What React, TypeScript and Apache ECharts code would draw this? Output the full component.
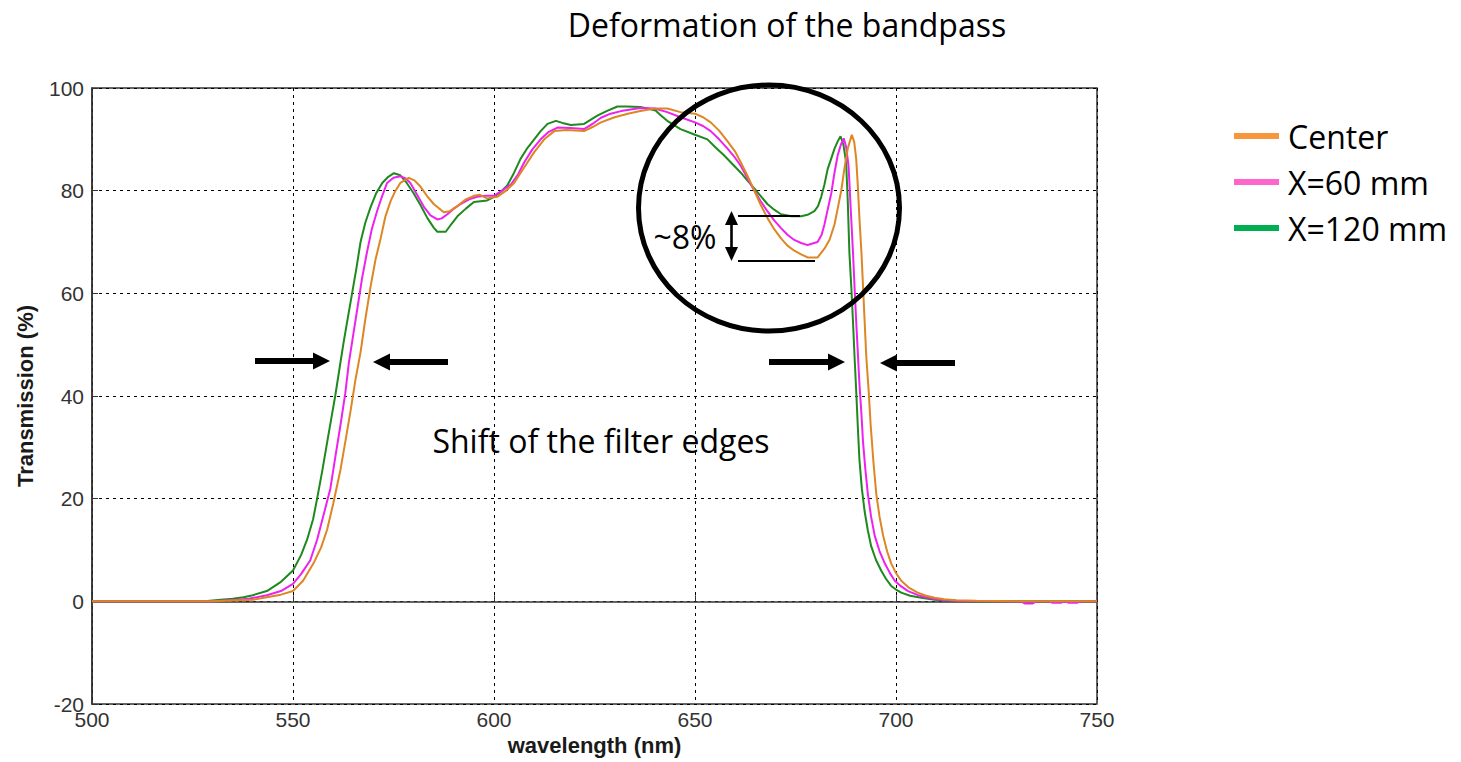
import React, { useEffect, useRef } from "react";
import * as echarts from "echarts";

// ---- Data ----
const centerWl = [500, 530, 540, 543.5, 547, 550, 552.5, 555.1, 557, 558.5, 560, 561.8, 563, 564.3, 565.5, 566.8, 568, 569.3, 570.5, 571.8, 573, 574.3, 575.5, 576.7, 578.8, 580.2, 581.7, 583.3, 585, 587.5, 589, 590.9, 593, 595, 596.5, 598.3, 600.8, 603, 605, 607.5, 610, 612.5, 615, 618, 622.4, 624.5, 626.6, 630, 633.3, 636.4, 640, 643.1, 646.4, 650, 652, 653.9, 656, 658.1, 660, 661.4, 663, 664.7, 666.3, 668, 669.7, 671.4, 673, 674.7, 676.4, 678, 680.5, 682.2, 683.5, 684.7, 685.5, 686.4, 687.2, 688, 689, 689.6, 690.1, 690.5, 690.9, 691.4, 691.8, 692.2, 692.6, 693.2, 693.7, 694.4, 695.1, 695.9, 696.8, 697.8, 698.8, 700, 701.3, 703.3, 705.4, 707.5, 709.6, 712, 715, 720, 730, 750];
const centerT = [0, 0, 0.3, 0.8, 1.3, 2, 4, 7.4, 10.5, 14, 19, 25.6, 31, 37, 43, 48.5, 55, 61.3, 66.5, 70.7, 75, 78, 80, 81.5, 82.5, 82, 80.8, 79, 77.4, 75.8, 76, 77, 78.3, 79, 79.2, 78.5, 78.8, 80, 81.5, 84.5, 87.5, 90, 91.6, 91.8, 91.6, 92.4, 93.3, 94.3, 95, 95.5, 96, 96, 95.3, 95, 94.3, 93.3, 91.7, 89.6, 87.6, 85.5, 83, 80.1, 77.3, 74.7, 72.5, 70.7, 69.3, 68.3, 67.6, 67, 67, 68.7, 70.5, 73.4, 76.5, 80.1, 84.5, 88.2, 90.9, 89.5, 86.2, 81, 74.7, 68, 61.3, 54.5, 47.8, 41, 34.3, 27, 20.9, 16.5, 12.8, 9.7, 7.4, 5.5, 4, 2.6, 1.7, 1.1, 0.7, 0.4, 0.2, 0.1, 0, 0];

const x60Wl = [500, 530, 536, 539, 543.5, 547, 550, 552, 554.3, 556, 557.6, 559.3, 560.5, 561.8, 563, 563.9, 565, 566, 567.2, 568.4, 569.6, 570.9, 572.2, 573.4, 575, 576.7, 578, 579.2, 581, 582.6, 584.2, 585.9, 587, 588.4, 590, 591.7, 593.8, 595.8, 598, 600, 602, 604.2, 606, 607.5, 609.5, 611.6, 613.5, 615.8, 619, 622.4, 624.5, 626.6, 629, 631.6, 634, 636.4, 640, 643.1, 646.4, 650, 652, 653.9, 656, 658.1, 659.8, 661.4, 663, 664.7, 666.3, 668, 669.7, 671.4, 673, 674.7, 676.4, 678, 680.5, 681.5, 682.2, 683, 683.9, 684.7, 685.5, 686.3, 687, 687.6, 688.2, 688.7, 689.3, 689.7, 690.1, 690.5, 690.9, 691.4, 691.8, 692.4, 693, 693.8, 694.7, 695.9, 697.2, 698.5, 699.7, 701.3, 703, 705.5, 708, 711, 715, 725, 731, 732, 734, 735, 738, 739, 741, 742, 743, 745, 746, 750];
const x60T = [0, 0, 0.3, 0.5, 1.2, 2, 3.4, 5.3, 8, 12, 16.8, 22, 28, 34.3, 40.5, 46.5, 52, 57, 63, 68, 72.5, 76, 79, 81.5, 82.5, 82.8, 82.4, 81.5, 79, 76.8, 75.2, 74.4, 74.6, 75.4, 76.5, 77.4, 78.3, 78.8, 79, 79, 80, 81.2, 83.2, 85.5, 88, 90, 91.4, 92.3, 92.2, 92, 93, 94.2, 95, 95.5, 95.8, 96.1, 96, 95.3, 94.3, 93.3, 92.6, 91.6, 90, 88.2, 86.6, 84.8, 82.5, 80.1, 78, 76, 74.2, 72.7, 71.4, 70.4, 69.8, 69.4, 70, 71.4, 73.4, 76.3, 79.5, 83.5, 86.9, 89, 90.2, 88.5, 84.8, 77, 68, 61, 54.5, 48.5, 42.4, 36.5, 31, 25.5, 20.9, 16.5, 12.8, 9.8, 7.4, 5.5, 4, 2.9, 2, 1.2, 0.7, 0.3, 0.1, 0, 0, -0.4, -0.4, 0, 0, -0.3, -0.3, 0, -0.3, -0.3, 0, 0];

const x120Wl = [500, 528, 532, 535, 537.7, 540, 543.5, 547, 550, 552, 553.5, 555, 556, 557.3, 558.5, 559.5, 560.5, 561.6, 562.6, 563.7, 564.7, 565.8, 566.8, 568, 569.3, 570.7, 572.2, 573.7, 575.1, 576.7, 578.3, 580, 581.7, 583.4, 585, 585.9, 588, 589.4, 590.9, 593, 595, 598.3, 600, 601.7, 603.3, 605, 606.6, 608.3, 610, 611.6, 613.3, 615.4, 617, 619.1, 622.4, 624, 625.7, 628, 630.7, 633, 636.4, 638.2, 640.2, 641.6, 643.1, 646.4, 650, 653.1, 655, 657.2, 659.3, 661.4, 663, 664.7, 666.3, 668, 669.7, 671.4, 674, 676.4, 678, 679.7, 680.6, 681.4, 682.2, 683, 683.9, 684.7, 685.5, 686.2, 686.9, 687.6, 688, 688.4, 688.9, 689.3, 689.7, 690.1, 690.5, 690.9, 691.5, 692.2, 693, 693.8, 695, 696.3, 697.5, 698.8, 700, 701.3, 703.5, 706.3, 709.6, 713, 720, 750];
const x120T = [0, 0, 0.3, 0.5, 0.8, 1.2, 2, 3.8, 6, 9, 12, 16, 20, 25.5, 31, 35.5, 40, 45.5, 50.5, 55.5, 60, 65, 70, 73.8, 76.8, 79.5, 81.5, 82.7, 83.4, 83, 81.5, 79.5, 77.2, 74.7, 72.8, 72, 72, 73.5, 75, 76.5, 77.8, 78.1, 78.8, 79.8, 81, 83.5, 86.2, 88.3, 90, 91.6, 93, 93.6, 93.2, 92.8, 93, 93.8, 94.6, 95.5, 96.4, 96.4, 96.3, 96, 95.6, 94.6, 93.6, 92, 90.9, 90, 88.5, 86.9, 85.2, 83.5, 82, 80.5, 79, 77.4, 76.3, 75.4, 75, 75, 75.3, 76, 77, 78.8, 81.2, 84.2, 86.3, 88.2, 89.6, 90.6, 89, 85.5, 78, 68, 61, 54.5, 47.5, 41, 34, 27.6, 22, 17.5, 13.8, 10.8, 8.1, 6, 4.4, 3, 2.3, 1.7, 1.1, 0.7, 0.3, 0.1, 0, 0];

const seriesNames = ["Center", "X=60 mm", "X=120 mm"];
const lineColors = ["#DD8624", "#EE22EE", "#1E8A1E"];
const legendColors = ["#F7963C", "#FF66CC", "#00B050"];
const yTicks = [-20, 0, 20, 40, 60, 80, 100];
const xTicks = [500, 550, 600, 650, 700, 750];

const pairs = (xs: number[], ys: number[]) => xs.map((x, i) => [x, ys[i]]);

const FONT = "'Open Sans', 'Noto Sans', sans-serif";
const AX_FONT = "'Liberation Sans', Arial, sans-serif";
const BIG = 32;

function arrow(x1: number, x2: number, y: number) {
  // horizontal arrow from x1 (tail) to x2 (tip)
  const dir = x2 > x1 ? 1 : -1;
  const headLen = 17;
  const headHalf = 8.5;
  const base = x2 - dir * headLen;
  return {
    type: "group",
    children: [
      {
        type: "rect",
        shape: { x: Math.min(x1, base), y: y - 3, width: Math.abs(base - x1), height: 6 },
        style: { fill: "#000" },
      },
      {
        type: "polygon",
        shape: { points: [[base, y - headHalf], [x2, y], [base, y + headHalf]] },
        style: { fill: "#000" },
      },
    ],
  };
}

export default function App() {
  const ref = useRef<HTMLDivElement>(null);
  useEffect(() => {
    if (!ref.current) return;
    const chart = echarts.init(ref.current, undefined, { renderer: "svg" });
    const dataSets = [pairs(centerWl, centerT), pairs(x60Wl, x60T), pairs(x120Wl, x120T)];
    const order = [2, 1, 0];
    chart.setOption({
      animation: false,
      backgroundColor: "#fff",
      title: {
        text: "Deformation of the bandpass",
        left: 782,
        textAlign: "center",
        top: 3,
        textStyle: { fontFamily: FONT, fontSize: BIG, fontWeight: "normal", color: "#000" },
      },
      legend: {
        orient: "vertical",
        left: 1229,
        top: 115,
        itemWidth: 45,
        itemHeight: 6,
        itemGap: 14,
        icon: "rect",
        textStyle: { fontFamily: FONT, fontSize: BIG, color: "#000", lineHeight: 32, padding: [0, 0, 0, 4] },
        data: seriesNames.map((n, i) => ({ name: n, itemStyle: { color: legendColors[i] } })),
      },
      grid: {
        left: 92,
        right: 364,
        top: 88,
        bottom: 58,
        show: true,
        borderColor: "#333",
        borderWidth: 1.5,
        containLabel: false,
      },
      xAxis: {
        type: "value",
        min: xTicks[0],
        max: xTicks[xTicks.length - 1],
        interval: 50,
        name: "wavelength (nm)",
        nameLocation: "middle",
        nameGap: 30,
        nameTextStyle: { fontFamily: AX_FONT, fontSize: 22, fontWeight: "bold", color: "#1a1a1a" },
        axisLine: { show: true, lineStyle: { color: "#333", width: 1.5 } },
        axisTick: { show: true, inside: true, length: 6, lineStyle: { color: "#333" } },
        axisLabel: { fontFamily: AX_FONT, fontSize: 21, color: "#333", margin: 5 },
        splitLine: { show: true, lineStyle: { color: "#000", type: [3, 4], width: 1 } },
      },
      yAxis: {
        type: "value",
        min: yTicks[0],
        max: yTicks[yTicks.length - 1],
        interval: 20,
        name: "Transmission (%)",
        nameLocation: "middle",
        nameGap: 56,
        nameTextStyle: { fontFamily: AX_FONT, fontSize: 22, fontWeight: "bold", color: "#1a1a1a" },
        axisLine: { show: true, lineStyle: { color: "#333", width: 1.5 } },
        axisTick: { show: true, inside: true, length: 6, lineStyle: { color: "#333" } },
        axisLabel: { fontFamily: AX_FONT, fontSize: 21, color: "#333", margin: 8 },
        splitLine: { show: true, lineStyle: { color: "#000", type: [3, 4], width: 1 } },
      },
      series: order.map((i) => ({
        name: seriesNames[i],
        type: "line",
        data: dataSets[i],
        showSymbol: false,
        symbol: "none",
        lineStyle: { color: lineColors[i], width: 2 },
        itemStyle: { color: lineColors[i] },
        z: 3,
      })),
      graphic: [
        {
          type: "ellipse",
          shape: { cx: 769, cy: 208, rx: 130.5, ry: 123 },
          style: { fill: "none", stroke: "#000", lineWidth: 5 },
          z: 10,
        },
        { ...arrow(255, 330, 361), z: 10 },
        { ...arrow(448, 373, 362), z: 10 },
        { ...arrow(769, 845, 362), z: 10 },
        { ...arrow(955, 880, 363), z: 10 },
        // ~8% double arrow
        {
          type: "rect",
          shape: { x: 730.2, y: 222, width: 2.6, height: 28 },
          style: { fill: "#000" },
          z: 10,
        },
        {
          type: "polygon",
          shape: { points: [[725, 225], [731.5, 211], [738, 225]] },
          style: { fill: "#000" },
          z: 10,
        },
        {
          type: "polygon",
          shape: { points: [[725, 247], [731.5, 261], [738, 247]] },
          style: { fill: "#000" },
          z: 10,
        },
        {
          type: "line",
          shape: { x1: 738, y1: 216, x2: 800, y2: 216 },
          style: { stroke: "#000", lineWidth: 2 },
          z: 10,
        },
        {
          type: "line",
          shape: { x1: 738, y1: 261, x2: 815, y2: 261 },
          style: { stroke: "#000", lineWidth: 2 },
          z: 10,
        },
        {
          type: "text",
          x: 685,
          y: 236,
          style: {
            text: "~8%",
            fontFamily: FONT,
            fontSize: BIG,
            fill: "#000",
            textAlign: "center",
            textVerticalAlign: "middle",
          },
          z: 10,
        },
        {
          type: "text",
          x: 601,
          y: 440,
          style: {
            text: "Shift of the filter edges",
            fontFamily: FONT,
            fontSize: BIG,
            fill: "#000",
            textAlign: "center",
            textVerticalAlign: "middle",
          },
          z: 10,
        },
      ],
    });
    return () => chart.dispose();
  }, []);
  return (
    <div
      ref={ref}
      style={{ position: "absolute", left: 0, top: 0, width: 1461, height: 762, background: "#fff" }}
    />
  );
}
